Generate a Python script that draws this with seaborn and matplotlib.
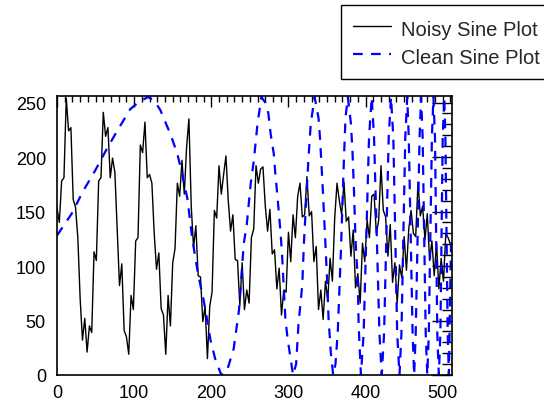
import numpy as np
import pandas as pd
import seaborn as sns
import matplotlib
matplotlib.use("Agg")
import matplotlib.pyplot as plt
from matplotlib.ticker import MultipleLocator

# noisy sine samples (every 3 units along x)
noisy_step = 3
noisy_y = [153, 140, 178, 181, 254, 224, 227, 161, 154, 126, 70, 32, 52, 21, 45, 39,
           113, 105, 178, 181, 241, 219, 227, 181, 199, 186, 135, 82, 102, 41, 35, 19,
           73, 60, 123, 126, 211, 204, 232, 181, 184, 176, 130, 97, 112, 61, 55, 19,
           73, 45, 103, 116, 176, 164, 197, 166, 209, 235, 155, 117, 137, 91, 90, 49,
           63, 15, 63, 76, 151, 144, 192, 166, 184, 201, 160, 132, 147, 106, 105, 64,
           103, 60, 78, 66, 126, 134, 192, 176, 189, 191, 155, 132, 152, 111, 115, 79,
           98, 55, 78, 76, 131, 104, 147, 126, 164, 176, 145, 147, 182, 146, 150, 104,
           118, 60, 78, 51, 86, 69, 107, 86, 144, 176, 160, 147, 177, 141, 145, 109,
           133, 80, 93, 66, 121, 104, 142, 126, 164, 166, 130, 142, 192, 151, 145, 109,
           138, 85, 103, 66, 101, 89, 127, 96, 134, 151, 130, 127, 177, 146, 155, 124,
           148, 105, 123, 91, 121, 79, 107, 86, 129, 126, 120]
noisy_x = np.arange(len(noisy_y)) * noisy_step

# clean (chirped) sine
clean_x = [0, 19, 34, 49, 65, 78, 95, 107, 118,
           126, 134, 147, 156, 162, 169, 175, 179, 183, 190, 195, 199, 205, 213,
           220, 229, 236, 242, 246, 251, 255, 260, 265,
           270, 274, 277, 281, 283, 286, 290, 292, 296, 299, 306,
           310, 313, 318, 320, 326, 329, 334,
           339, 341, 344, 348, 350, 352, 355, 358,
           361, 364, 368, 372, 374, 377,
           381, 383, 385, 387, 390, 391, 394,
           397.5, 401, 404.5, 408, 411, 414.5, 418, 421,
           424, 427, 430, 433, 436, 438.5, 441, 444,
           446.5, 449, 451.5, 454, 456, 458.5, 461, 463,
           465, 467.5, 470, 472, 474, 476, 478, 480,
           482, 484, 486, 488, 490, 491.5, 493, 495,
           497, 498.5, 500, 502, 503.5, 505, 506.5, 508, 510, 511]
clean_y = [128, 148, 169, 187, 208, 224, 244, 251, 255,
           252, 243, 221, 203, 185, 162, 127, 109, 92, 69, 49, 32, 15, 0,
           3, 24, 60, 120, 138, 175, 196, 231, 255,
           250, 240, 221, 203, 185, 162, 129, 107, 52, 33, 0,
           10, 46, 83, 120, 199, 231, 255,
           236, 217, 178, 120, 89, 52, 20, 0,
           10, 40, 113, 199, 236, 255,
           231, 206, 169, 123, 86, 46, 0,
           38, 128, 218, 255, 218, 128, 38, 0,
           38, 128, 218, 255, 218, 128, 38, 0,
           38, 128, 218, 255, 218, 128, 38, 0,
           38, 128, 218, 255, 218, 128, 38, 0,
           38, 128, 218, 255, 218, 128, 38, 0,
           38, 128, 218, 255, 218, 128, 38, 0, 90, 128]

noisy = pd.DataFrame({"x": noisy_x, "y": noisy_y})
clean = pd.DataFrame({"x": clean_x, "y": clean_y})

sns.set_theme(style="white")
plt.rcParams["font.family"] = ["Liberation Sans", "DejaVu Sans"]
plt.rcParams["lines.scale_dashes"] = False

fig = plt.figure(figsize=(5.44, 4.02), dpi=100)
ax = fig.add_axes([0.1048, 0.0647, 0.726, 0.694])

sns.lineplot(data=noisy, x="x", y="y", ax=ax, color="black", linewidth=1.0,
             estimator=None, sort=False, label="Noisy Sine Plot")
sns.lineplot(data=clean, x="x", y="y", ax=ax, color="#0000ff", linewidth=1.6,
             estimator=None, sort=False, linestyle=(0, (7, 6)), label="Clean Sine Plot")

ax.set_xlim(0, 512)
ax.set_ylim(0, 256)
ax.set_xlabel("")
ax.set_ylabel("")
ax.xaxis.set_major_locator(MultipleLocator(100))
ax.xaxis.set_minor_locator(MultipleLocator(10))
ax.yaxis.set_major_locator(MultipleLocator(50))
ax.yaxis.set_minor_locator(MultipleLocator(10))
ax.tick_params(axis="both", which="both", direction="in", top=True, right=True,
               color="black", width=1.0, labelsize=13, labelcolor="black")
ax.tick_params(axis="x", which="major", length=8, pad=6.5)
ax.tick_params(axis="x", which="minor", length=4)
ax.tick_params(axis="y", which="major", length=14.4, pad=8)
ax.tick_params(axis="y", which="minor", length=7.2)
for s in ax.spines.values():
    s.set_color("black")
    s.set_linewidth(1.2)

leg = ax.legend(loc="upper left", bbox_to_anchor=(0.626, 0.985),
                bbox_transform=fig.transFigure, fontsize=14.5, frameon=True,
                fancybox=False, framealpha=1, edgecolor="black",
                handlelength=1.89, handleheight=1.35, handletextpad=0.5,
                borderpad=0.6, labelspacing=0.25, borderaxespad=0)
leg.get_frame().set_linewidth(1.0)

fig.savefig("out.png", dpi=100)
